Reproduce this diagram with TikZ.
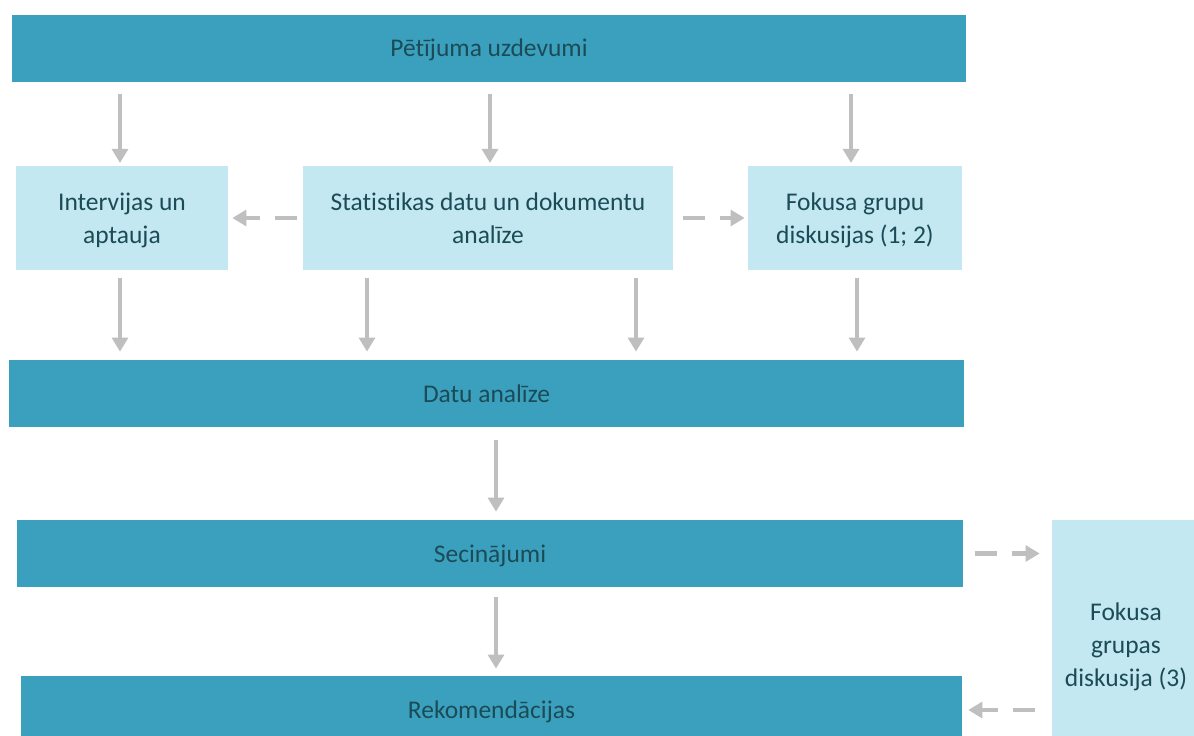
\documentclass[tikz,border=0pt]{standalone}
\usepackage{fontspec}
\setmainfont{Carlito}[Ligatures=NoCommon]
\usetikzlibrary{arrows.meta, positioning}
\definecolor{barblue}{HTML}{3BA0BE}
\definecolor{boxblue}{HTML}{C3E8F1}
\definecolor{txtteal}{HTML}{1B4B57}
\definecolor{arrgray}{HTML}{BFBFBF}
\tikzset{
  bar/.style={rectangle, fill=barblue, text=txtteal, inner sep=0pt, text depth=0pt,
    minimum height=1.34cm, font=\fontsize{14.5}{18.8}\selectfont},
  box/.style={rectangle, fill=boxblue, text=txtteal, align=center, inner sep=0pt, text depth=0pt,
    minimum height=2.08cm, font=\fontsize{14.5}{18.8}\selectfont},
  arrow/.style={draw=arrgray, line width=2.3pt, -{Triangle[width=9pt,length=8pt]}},
  dasharrow/.style={arrow, dash pattern=on 12.5pt off 8.5pt},
}

\begin{document}
\begin{tikzpicture}[x=0.02cm, y=-0.02cm]
\clip (0,0) rectangle (1194,735);
% tasks, methods, results
\node [bar, minimum width=19.08cm] (tasks) at (489,48) {Pētījuma uzdevumi};
\node [box, minimum width=4.24cm] (interv) at (122,218) {Intervijas un\\aptauja};
\node [box, minimum width=7.40cm] (stats) at (488,218) {Statistikas datu un dokumentu\\analīze};
\node [box, minimum width=4.28cm] (focus) at (855,218) {Fokusa grupu\\diskusijas (1; 2)};
\node [bar, minimum width=19.10cm] (analysis) at (486.5,393.5) {Datu analīze};
\node [bar, minimum width=18.92cm] (concl) at (490,553.5) {Secinājumi};
\node [bar, minimum width=18.82cm, minimum height=1.36cm] (recom) at (491.5,710) {Rekomendācijas};
\node [box, minimum width=2.96cm, minimum height=5.00cm] (focusc) at (1126,645) {Fokusa\\grupas\\diskusija (3)};

  \draw [arrow, shorten <=0.24cm, shorten >=0.06cm] (tasks.south -| 120,0) -- (120,166);
  \draw [arrow, shorten <=0.24cm, shorten >=0.06cm] (tasks.south -| 490,0) -- (490,166);
  \draw [arrow, shorten <=0.24cm, shorten >=0.06cm] (tasks.south -| 851,0) -- (851,166);

  \draw [dasharrow, shorten <=0.12cm, shorten >=0.08cm] (stats.west) -- (interv.east);
  \draw [dasharrow, shorten <=0.20cm, shorten >=0.06cm] (stats.east) -- (focus.west);

  \draw [arrow, shorten <=0.16cm, shorten >=0.16cm] (interv.south -| 120,0) -- (analysis.north -| 120,0);
  \draw [arrow, shorten <=0.16cm, shorten >=0.16cm] (stats.south -| 367,0) -- (analysis.north -| 367,0);
  \draw [arrow, shorten <=0.16cm, shorten >=0.16cm] (stats.south -| 636,0) -- (analysis.north -| 636,0);
  \draw [arrow, shorten <=0.16cm, shorten >=0.16cm] (focus.south -| 857,0) -- (analysis.north -| 857,0);

  \draw [arrow, shorten <=0.26cm, shorten >=0.16cm] (analysis.south -| 496,0) -- (concl.north -| 496,0);
  \draw [arrow, shorten <=0.20cm, shorten >=0.14cm] (concl.south -| 496,0) -- (recom.north -| 496,0);

  \draw [dasharrow, shorten <=0.24cm, shorten >=0.24cm] (concl.east) -- (focusc.west |- concl.east);
  \draw [dasharrow, shorten <=0.34cm, shorten >=0.12cm] (focusc.west |- recom.east) -- (recom.east);
\end{tikzpicture}
\end{document}
